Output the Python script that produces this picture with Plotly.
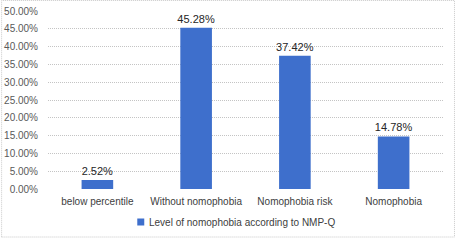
import plotly.graph_objects as go

categories = ["below percentile", "Without nomophobia", "Nomophobia risk", "Nomophobia"]
values = [2.52, 45.28, 37.42, 14.78]
series_name = "Level of nomophobia according to NMP-Q"
tick_vals = [0, 5, 10, 15, 20, 25, 30, 35, 40, 45, 50]
tick_text = [f"{v:.2f}%" for v in tick_vals]

W, H = 457, 240
L, R, T, B = 47.5, 13.5, 11, 51
pw = W - L - R
ph = H - T - B

font_fam = "Liberation Sans, Arial, sans-serif"
bar_color = "#3E6FCC"

def px_x(x):
    return (x - L) / pw

def px_y(y):
    return (H - B - y) / ph

fig = go.Figure()
fig.add_trace(go.Bar(
    x=categories, y=values, name=series_name,
    marker=dict(color=bar_color, line=dict(width=0)),
    width=0.32,
    text=[f"{v:.2f}%" for v in values],
    textposition="outside",
    constraintext="none",
    textfont=dict(size=11, color="#262626", family=font_fam),
    cliponaxis=False,
    showlegend=False,
))

fig.update_layout(
    width=W, height=H,
    margin=dict(l=L, r=R, t=T, b=B),
    paper_bgcolor="white", plot_bgcolor="white",
    showlegend=False,
    font=dict(family=font_fam, size=10, color="#595959"),
    xaxis=dict(showgrid=False, showline=False, ticks="", zeroline=False,
               ticklabelstandoff=5, automargin=False,
               tickfont=dict(size=10, color="#404040", family=font_fam)),
    yaxis=dict(range=[0, 50], tickvals=tick_vals, ticktext=tick_text,
               showgrid=True, gridcolor="#C4C4C4", griddash="1px,1px", gridwidth=1,
               zeroline=False, showline=False, ticks="", ticklabelstandoff=9,
               automargin=False,
               tickfont=dict(size=10, color="#595959", family=font_fam)),
)

# legend (manual, to match tight swatch spacing)
fig.add_shape(type="rect", xref="paper", yref="paper",
              x0=px_x(137), x1=px_x(144), y0=px_y(225.5), y1=px_y(218.5),
              fillcolor=bar_color, line=dict(width=0))
fig.add_annotation(xref="paper", yref="paper", x=px_x(147), y=px_y(222),
                   xanchor="left", yanchor="middle", showarrow=False,
                   text=series_name,
                   font=dict(size=10, color="#404040", family=font_fam))

# outer chart frame
fig.add_shape(type="rect", xref="paper", yref="paper",
              x0=px_x(1), x1=px_x(455),
              y0=px_y(237), y1=px_y(0.5),
              line=dict(color="#C8C8C8", width=1, dash="1px,1px"), layer="below")

fig.write_html("out.html",
               config={"displayModeBar": False},
               post_script="document.body.style.margin='0';document.body.style.padding='0';")
